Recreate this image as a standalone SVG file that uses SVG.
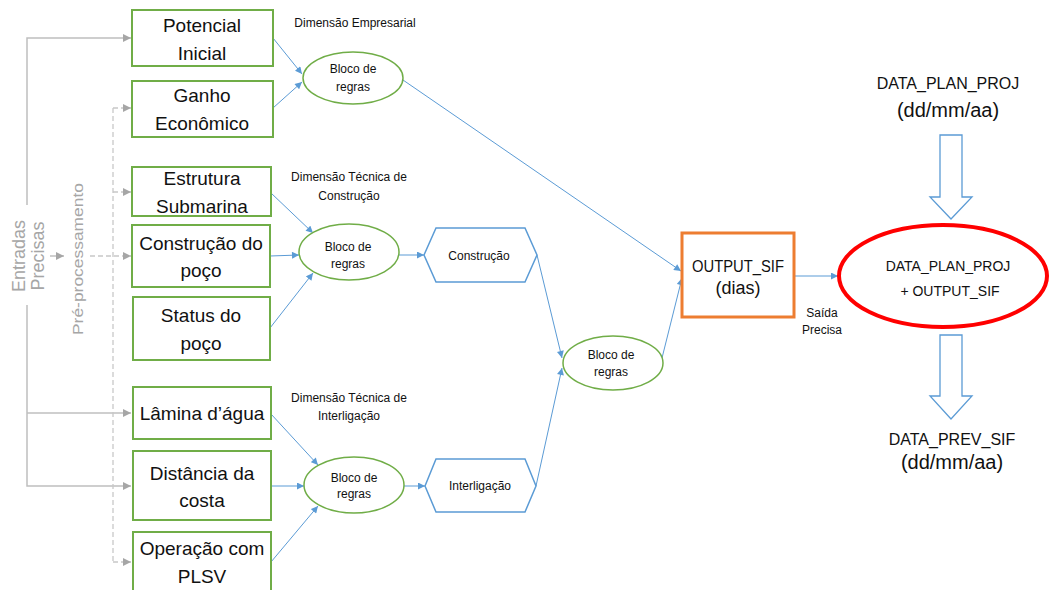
<svg xmlns="http://www.w3.org/2000/svg" width="1052" height="590" viewBox="0 0 1052 590">
<defs>
<style>
.box{fill:#fff;stroke:#70AD47;stroke-width:2}
.ell{fill:#fff;stroke:#70AD47;stroke-width:1.5}
.hex{fill:#fff;stroke:#5B9BD5;stroke-width:1.5}
.bt{font-family:"Liberation Sans",Arial,sans-serif;font-size:19px;fill:#111;text-anchor:middle}
.st{font-family:"Liberation Sans",Arial,sans-serif;font-size:12px;fill:#111;text-anchor:middle}
.gt{font-family:"Liberation Sans",Arial,sans-serif;fill:#a6a6a6;text-anchor:middle}
.big{font-family:"Liberation Sans",Arial,sans-serif;fill:#111;text-anchor:middle}
.bl{stroke:#5B9BD5;stroke-width:1;fill:none;marker-end:url(#ab)}
.gs{stroke:#bfbfbf;stroke-width:1.5;fill:none}
.gd{stroke:#c8c8c8;stroke-width:1.3;fill:none;stroke-dasharray:5 3}
.blk{fill:#fff;stroke:#5B9BD5;stroke-width:1.3}
</style>
<marker id="ab" viewBox="0 0 10 10" refX="10" refY="5" markerWidth="8" markerHeight="7" markerUnits="userSpaceOnUse" orient="auto"><path d="M0,0 L10,5 L0,10 Z" fill="#5B9BD5"/></marker>
<marker id="ag" viewBox="0 0 10 10" refX="10" refY="5" markerWidth="9" markerHeight="8" markerUnits="userSpaceOnUse" orient="auto"><path d="M0,0 L10,5 L0,10 Z" fill="#a6a6a6"/></marker>
</defs>
<rect width="1052" height="590" fill="#fff"/>

<g id="connectors">
<path class="gs" d="M27,205 V38 H131" marker-end="url(#ag)"/>
<path class="gs" d="M27,305 V486 H131" marker-end="url(#ag)"/>
<path class="gs" d="M27,413 H131" marker-end="url(#ag)"/>
<path class="gs" d="M50,256 H64" marker-end="url(#ag)"/>
<path class="gd" d="M113,108 V562"/>
<path class="gd" d="M113,108 H131" marker-end="url(#ag)"/>
<path class="gd" d="M113,192 H131" marker-end="url(#ag)"/>
<path class="gd" d="M90,256 H131" marker-end="url(#ag)"/>
<path class="gd" d="M113,562 H131" marker-end="url(#ag)"/>
<path class="bl" d="M273,38 L302,74"/>
<path class="bl" d="M273,108 L302,82"/>
<path class="bl" d="M403,80 L681,271"/>
<path class="bl" d="M271,193 L313,233"/>
<path class="bl" d="M270,256 L299,255"/>
<path class="bl" d="M270,328 L313,273"/>
<path class="bl" d="M399,255 L424,255"/>
<path class="bl" d="M537,255 L562,358"/>
<path class="bl" d="M536,486 L562,368"/>
<path class="bl" d="M662,358 L682,278"/>
<path class="bl" d="M271,414 L318,465"/>
<path class="bl" d="M271,486 L304,486"/>
<path class="bl" d="M271,562 L318,506"/>
<path class="bl" d="M404,486 L425,486"/>
<path class="bl" d="M794,276 L838,276"/>
</g>

<g id="entradas">
<text class="gt" font-size="18" transform="translate(25,256) rotate(-90)">Entradas</text>
<text class="gt" font-size="18" transform="translate(44,256) rotate(-90)">Precisas</text>
</g>
<g id="preproc">
<text class="gt" font-size="15" textLength="152" lengthAdjust="spacingAndGlyphs" transform="translate(83,259) rotate(-90)">Pré-processamento</text>
</g>

<g id="n-potencial"><rect class="box" x="132" y="10" width="141" height="56"/><text class="bt" x="202" y="32">Potencial</text><text class="bt" x="202" y="60">Inicial</text></g>
<g id="n-ganho"><rect class="box" x="132" y="81" width="141" height="56"/><text class="bt" x="202" y="102">Ganho</text><text class="bt" x="202" y="130">Econômico</text></g>
<g id="n-estrutura"><rect class="box" x="132" y="167" width="139" height="49"/><text class="bt" x="202" y="185">Estrutura</text><text class="bt" x="202" y="213">Submarina</text></g>
<g id="n-construcao"><rect class="box" x="132" y="225" width="138" height="62"/><text class="bt" x="201" y="250">Construção do</text><text class="bt" x="201" y="277">poço</text></g>
<g id="n-status"><rect class="box" x="133" y="297" width="137" height="63"/><text class="bt" x="201" y="322">Status do</text><text class="bt" x="201" y="350">poço</text></g>
<g id="n-lamina"><rect class="box" x="133" y="387" width="138" height="52"/><text class="bt" x="202" y="420">Lâmina d’água</text></g>
<g id="n-distancia"><rect class="box" x="133" y="451" width="138" height="69"/><text class="bt" x="202" y="480">Distância da</text><text class="bt" x="202" y="507">costa</text></g>
<g id="n-operacao"><rect class="box" x="133" y="532" width="138" height="64"/><text class="bt" x="202" y="555">Operação com</text><text class="bt" x="202" y="583">PLSV</text></g>

<g id="lbl-emp"><text class="st" x="355" y="27">Dimensão Empresarial</text></g>
<g id="lbl-con"><text class="st" x="349" y="181">Dimensão Técnica de</text><text class="st" x="349" y="200">Construção</text></g>
<g id="lbl-int"><text class="st" x="349" y="402">Dimensão Técnica de</text><text class="st" x="349" y="420">Interligação</text></g>

<g id="bloco1"><ellipse class="ell" cx="353" cy="78" rx="50" ry="26"/><text class="st" x="353" y="73">Bloco de</text><text class="st" x="353" y="91">regras</text></g>
<g id="bloco2"><ellipse class="ell" cx="349" cy="252" rx="50" ry="28"/><text class="st" x="348" y="251">Bloco de</text><text class="st" x="348" y="268">regras</text></g>
<g id="bloco3"><ellipse class="ell" cx="354" cy="485" rx="50" ry="28"/><text class="st" x="354" y="482">Bloco de</text><text class="st" x="354" y="498">regras</text></g>
<g id="bloco4"><ellipse class="ell" cx="613" cy="363" rx="50" ry="27"/><text class="st" x="611" y="359">Bloco de</text><text class="st" x="611" y="376">regras</text></g>

<g id="hex-construcao"><polygon class="hex" points="424,255 436,228 525,228 537,255 525,282 436,282"/><text class="st" x="479" y="260">Construção</text></g>
<g id="hex-interligacao"><polygon class="hex" points="425,486 436,459 525,459 536,486 525,512 436,512"/><text class="st" x="480" y="490">Interligação</text></g>

<g id="output"><rect x="682" y="233" width="112" height="84" fill="#fff" stroke="#ED7D31" stroke-width="3"/><text class="big" x="738" y="272" style="font-size:16px" textLength="92" lengthAdjust="spacingAndGlyphs">OUTPUT_SIF</text><text class="big" x="738" y="294" style="font-size:18px">(dias)</text></g>
<g id="saida"><text class="st" x="822" y="317">Saída</text><text class="st" x="822" y="334">Precisa</text></g>

<g id="data-plan"><text class="big" x="948" y="89" style="font-size:16px">DATA_PLAN_PROJ</text><text class="big" x="948" y="117" style="font-size:20px">(dd/mm/aa)</text></g>
<g id="arrow-top"><path class="blk" d="M940,135 H962 V197 H972 L951,219 L930,197 H940 Z"/></g>
<g id="sum"><ellipse cx="943" cy="276" rx="104" ry="51" fill="#fff" stroke="#FF0000" stroke-width="4"/><text class="big" x="948" y="271" style="font-size:14px">DATA_PLAN_PROJ</text><text class="big" x="950" y="296" style="font-size:14px">+ OUTPUT_SIF</text></g>
<g id="arrow-bottom"><path class="blk" d="M940,335 H962 V396 H972 L951,419 L930,396 H940 Z"/></g>
<g id="data-prev"><text class="big" x="952" y="445" style="font-size:16px">DATA_PREV_SIF</text><text class="big" x="952" y="469" style="font-size:20px">(dd/mm/aa)</text></g>
</svg>
